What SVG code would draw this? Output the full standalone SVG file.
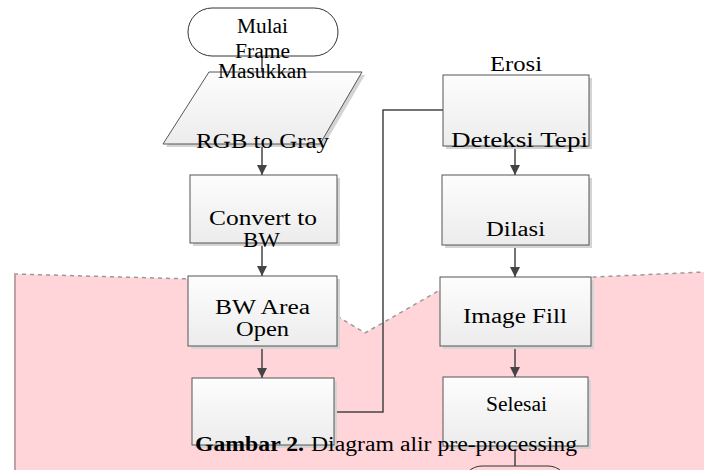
<svg xmlns="http://www.w3.org/2000/svg" width="704" height="470" viewBox="0 0 704 470">
<defs>
<linearGradient id="g" x1="0" y1="0" x2="0" y2="1">
<stop offset="0" stop-color="#fdfdfd"/>
<stop offset="1" stop-color="#ececec"/>
</linearGradient>
<marker id="ah" markerWidth="10" markerHeight="10" refX="10" refY="5" orient="auto" markerUnits="userSpaceOnUse">
<path d="M0,0 L10,5 L0,10 Z" fill="#444"/>
</marker>
</defs>
<style>
.box{fill:url(#g);stroke:#555;stroke-width:1}
.sh{fill:#d4d4d4}
.t{font-family:"Liberation Serif","Times New Roman",serif;font-size:20px;fill:#000}
.c{stroke:#444;stroke-width:1.5;fill:none}
.ca{stroke:#444;stroke-width:1.5;fill:none;marker-end:url(#ah)}
</style>
<rect width="704" height="470" fill="#fff"/>
<g id="background">
<polygon points="14,274 192,279 337,316 365,333 440,290 594,277 704,272 704,470 14,470" fill="#ffd5d9"/>
<polyline points="14,274 192,279 337,316 365,333 440,290 594,277 704,272" fill="none" stroke="#9a9a9a" stroke-width="1.5" stroke-dasharray="4 4"/>
<line x1="15" y1="274" x2="15" y2="470" stroke="#bfa0a3" stroke-width="2"/>
</g>
<g id="connectors">
<line class="c" x1="262" y1="56" x2="262" y2="72"/>
<line class="ca" x1="262" y1="144" x2="262" y2="175"/>
<line class="ca" x1="262" y1="243" x2="262" y2="276"/>
<line class="ca" x1="262" y1="346" x2="262" y2="378"/>
<polyline class="c" points="334,412 383,412 383,110 443,110"/>
<line class="ca" x1="515" y1="146" x2="515" y2="175"/>
<line class="ca" x1="515" y1="245" x2="515" y2="277"/>
<line class="ca" x1="515" y1="346" x2="515" y2="377"/>
<line class="c" x1="515" y1="446" x2="515" y2="466"/>
</g>
<g id="mulai">
<rect x="188" y="8" width="150" height="48" rx="24" fill="#fff" stroke="#333" stroke-width="1"/>
<text class="t" x="237" y="33" textLength="51" lengthAdjust="spacingAndGlyphs">Mulai</text>
</g>
<g id="frame">
<polygon class="sh" points="212,75 365,75 323,147 166,147"/>
<polygon class="box" points="209,72 362,72 320,144 163,144"/>
<text class="t" x="235" y="58" textLength="55" lengthAdjust="spacingAndGlyphs">Frame</text>
<text class="t" x="218" y="78" textLength="89" lengthAdjust="spacingAndGlyphs">Masukkan</text>
<text class="t" x="196" y="148" font-size="22" textLength="133" lengthAdjust="spacingAndGlyphs">RGB to Gray</text>
</g>
<g id="convert">
<rect class="sh" x="193" y="178" width="147" height="68"/>
<rect class="box" x="190" y="175" width="147" height="68"/>
<text class="t" x="209" y="225" font-size="21" textLength="108" lengthAdjust="spacingAndGlyphs">Convert to</text>
<text class="t" x="243" y="247" font-size="21" textLength="37" lengthAdjust="spacingAndGlyphs">BW</text>
</g>
<g id="bwarea">
<rect class="sh" x="191" y="279" width="149" height="70"/>
<rect class="box" x="188" y="276" width="149" height="70"/>
<text class="t" x="215" y="314" font-size="21" textLength="95" lengthAdjust="spacingAndGlyphs">BW Area</text>
<text class="t" x="236" y="336" font-size="21" textLength="53" lengthAdjust="spacingAndGlyphs">Open</text>
</g>
<g id="box4">
<rect class="sh" x="195" y="381" width="142" height="67"/>
<rect class="box" x="192" y="378" width="142" height="67"/>
</g>
<g id="erosi">
<rect class="sh" x="446" y="78" width="146" height="71"/>
<rect class="box" x="443" y="75" width="146" height="71"/>
<text class="t" x="490" y="71" textLength="52" lengthAdjust="spacingAndGlyphs">Erosi</text>
<text class="t" x="451" y="147" font-size="21" textLength="137" lengthAdjust="spacingAndGlyphs">Deteksi Tepi</text>
</g>
<g id="dilasi">
<rect class="sh" x="445" y="178" width="147" height="70"/>
<rect class="box" x="442" y="175" width="147" height="70"/>
<text class="t" x="486" y="236" font-size="21" textLength="59" lengthAdjust="spacingAndGlyphs">Dilasi</text>
</g>
<g id="imagefill">
<rect class="sh" x="443" y="280" width="151" height="69"/>
<rect class="box" x="440" y="277" width="151" height="69"/>
<text class="t" x="463" y="323" font-size="21" textLength="104" lengthAdjust="spacingAndGlyphs">Image Fill</text>
</g>
<g id="selesai">
<rect class="sh" x="446" y="380" width="145" height="69"/>
<rect class="box" x="443" y="377" width="145" height="69"/>
<text class="t" x="486" y="411" font-size="17" textLength="61" lengthAdjust="spacingAndGlyphs">Selesai</text>
</g>
<g id="end">
<rect x="462" y="466" width="106" height="40" rx="20" fill="none" stroke="#333" stroke-width="1"/>
</g>
<g id="caption">
<text class="t" x="195" y="451" font-size="22" font-weight="bold" textLength="109" lengthAdjust="spacingAndGlyphs">Gambar 2.</text>
<text class="t" x="311" y="451" font-size="22" textLength="266" lengthAdjust="spacingAndGlyphs">Diagram alir pre-processing</text>
</g>
</svg>
